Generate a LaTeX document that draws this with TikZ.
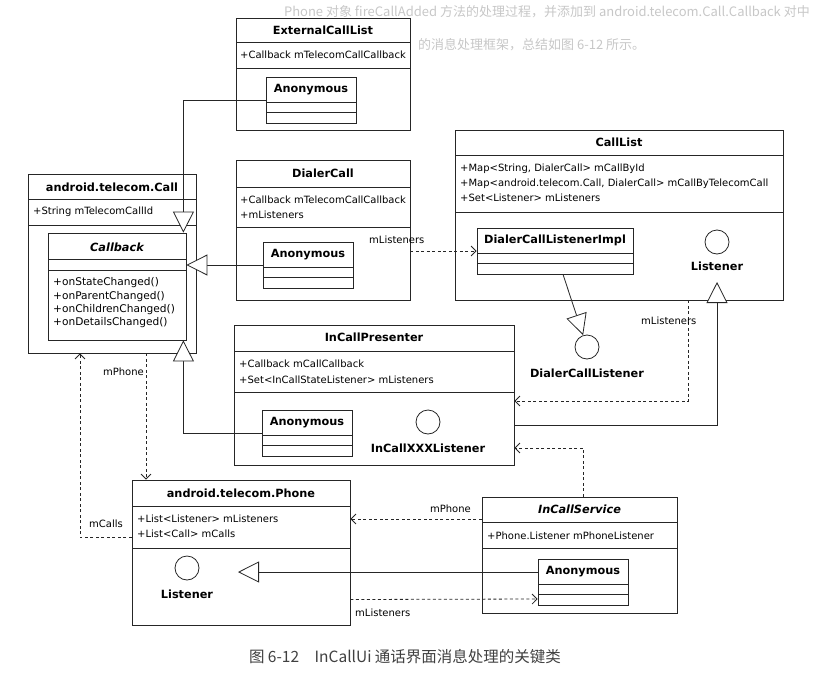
\documentclass[tikz,border=0pt]{standalone}
\usepackage{fontspec}
\setmainfont{DejaVu Sans}
\newfontfamily\cjkfont{Noto Sans CJK SC}
\usetikzlibrary{arrows.meta,positioning}
\tikzset{
  classbox/.style={draw=black!85, line width=0.8pt, fill=white, inner sep=0pt},
  titletext/.style={font=\fontsize{11.3}{13}\selectfont\bfseries, inner sep=0pt},
  membertext/.style={font=\fontsize{10}{15}\selectfont, align=left, inner sep=0pt, anchor=west},
  labeltext/.style={font=\fontsize{10}{12}\selectfont, inner sep=0pt},
  divider/.style={draw=black!85, line width=0.8pt},
  lollipop/.style={circle, draw=black!85, line width=0.8pt, fill=white, minimum size=24pt, inner sep=0pt},
  gen/.style={draw=black!85, line width=0.8pt, -{Triangle[length=21pt, width=21pt, fill=white]}},
  dep/.style={draw=black!85, line width=0.8pt, dash pattern=on 3pt off 2.5pt, -{Straight Barb[length=5pt, width=10pt]}},
  pagetext/.style={font=\cjkfont\fontsize{13}{15}\selectfont, text=black!22, inner sep=0pt}
}
\begin{document}
\begin{tikzpicture}[x=1pt, y=-1pt]
    \useasboundingbox (0,0) rectangle (816,680);
    % faint page text above the figure
    \node[pagetext, anchor=east] (pageline1) at (810,12) {Phone 对象 fireCallAdded 方法的处理过程，并添加到 android.telecom.Call.Callback 对中};
    \node[pagetext, anchor=west] (pageline2) at (418,45) {的消息处理框架，总结如图 6-12 所示。};

    % ExternalCallList
    \node[classbox, minimum width=174pt, minimum height=112pt] (extList) at (323,74) {};
    \node[titletext] (extListT) at (323,30) {ExternalCallList};
    \draw[divider] (236,42) -- (410,42) (236,68) -- (410,68);
    \node[membertext] (extListA) at (240,55) {+Callback mTelecomCallCallback};
    \node[classbox, minimum width=90pt, minimum height=46pt] (anonExt) at (311,100) {};
    \node[titletext] (anonExtT) at (311,89.5) {Anonymous};
    \draw[divider] (266,102) -- (356,102) (266,112) -- (356,112);

    % DialerCall
    \node[classbox, minimum width=174pt, minimum height=140pt] (dialer) at (323,230) {};
    \node[titletext] (dialerT) at (323,173) {DialerCall};
    \draw[divider] (236,187) -- (410,187) (236,227) -- (410,227);
    \node[membertext] (dialerA) at (240,207) {+Callback mTelecomCallCallback\\+mListeners};
    \node[classbox, minimum width=90pt, minimum height=46pt] (anonDial) at (308,265) {};
    \node[titletext] (anonDialT) at (308,254.5) {Anonymous};
    \draw[divider] (263,267) -- (353,267) (263,277) -- (353,277);

    % android.telecom.Call with inner Callback
    \node[classbox, minimum width=168pt, minimum height=179pt] (call) at (112,263.5) {};
    \node[titletext] (callT) at (112,187) {android.telecom.Call};
    \draw[divider] (28,199) -- (196,199) (28,225) -- (196,225);
    \node[membertext] (callA) at (33,212) {+String mTelecomCallId};
    \node[classbox, minimum width=138pt, minimum height=107pt] (cbk) at (117,286.5) {};
    \node[titletext, font=\fontsize{11.3}{13}\selectfont\bfseries\itshape] (cbkT) at (117,247) {Callback};
    \draw[divider] (48,259) -- (186,259) (48,270) -- (186,270);
    \node[membertext, font=\fontsize{10.6}{13.3}\selectfont] (cbkM) at (53,303) {+onStateChanged()\\+onParentChanged()\\+onChildrenChanged()\\+onDetailsChanged()};

    % CallList
    \node[classbox, minimum width=328pt, minimum height=170pt] (callList) at (619,215) {};
    \node[titletext] (callListT) at (619,142) {CallList};
    \draw[divider] (455,155) -- (783,155) (455,212) -- (783,212);
    \node[membertext] (callListA) at (460,183) {+Map<String, DialerCall> mCallById\\+Map<android.telecom.Call, DialerCall> mCallByTelecomCall\\+Set<Listener> mListeners};
    \node[classbox, minimum width=156pt, minimum height=46pt] (impl) at (555,251) {};
    \node[titletext] (implT) at (555,240) {DialerCallListenerImpl};
    \draw[divider] (477,253) -- (633,253) (477,263) -- (633,263);
    \node[lollipop] (clLsn) at (717,242) {};
    \node[titletext, below=7pt of clLsn] (clLsnT) {Listener};
    \coordinate (clLsnTip) at (717,282);

    % DialerCallListener
    \node[lollipop] (dclLsn) at (587,347) {};
    \node[titletext, below=9pt of dclLsn] (dclLsnT) {DialerCallListener};

    % InCallPresenter
    \node[classbox, minimum width=280pt, minimum height=140pt] (icp) at (374,395) {};
    \node[titletext] (icpT) at (374,337) {InCallPresenter};
    \draw[divider] (234,351) -- (514,351) (234,392) -- (514,392);
    \node[membertext, font=\fontsize{10}{16}\selectfont] (icpA) at (239,371.5) {+Callback mCallCallback\\+Set<InCallStateListener> mListeners};
    \node[classbox, minimum width=90pt, minimum height=46pt] (anonIcp) at (307,433) {};
    \node[titletext] (anonIcpT) at (307,422.5) {Anonymous};
    \draw[divider] (262,435) -- (352,435) (262,445) -- (352,445);
    \node[lollipop] (icpLsn) at (428,422) {};
    \node[titletext, below=9pt of icpLsn] (icpLsnT) {InCallXXXListener};

    % android.telecom.Phone
    \node[classbox, minimum width=218pt, minimum height=145pt] (phone) at (241,552.5) {};
    \node[titletext] (phoneT) at (241,493) {android.telecom.Phone};
    \draw[divider] (132,506) -- (350,506) (132,548) -- (350,548);
    \node[membertext] (phoneA) at (137,526.5) {+List<Listener> mListeners\\+List<Call> mCalls};
    \node[lollipop] (phLsn) at (187,568) {};
    \node[titletext, below=9pt of phLsn] (phLsnT) {Listener};
    \coordinate (phLsnTip) at (238,572);

    % InCallService
    \node[classbox, minimum width=195pt, minimum height=116pt] (svc) at (579.5,555) {};
    \node[titletext, font=\fontsize{11.3}{13}\selectfont\bfseries\itshape] (svcT) at (579.5,509) {InCallService};
    \draw[divider] (482,522) -- (677,522) (482,548) -- (677,548);
    \node[membertext] (svcA) at (487,536) {+Phone.Listener mPhoneListener};
    \node[classbox, minimum width=90pt, minimum height=46pt] (anonSvc) at (583,582) {};
    \node[titletext] (anonSvcT) at (583,571.5) {Anonymous};
    \draw[divider] (538,584) -- (628,584) (538,594) -- (628,594);

    % generalisations
    \draw[gen] (anonExt.west) -| ([xshift=-3pt]cbk.north east);
    \draw[gen] (anonDial.west) -- (anonDial.west -| cbk.east);
    \draw[gen] (anonIcp.west) -| ([xshift=-3pt]cbk.south east);
    \draw[gen] ([xshift=8pt]impl.south) -- (dclLsn);
    \draw[gen] ([yshift=-30pt]icp.east) -| (clLsnTip);
    \draw[gen] ([yshift=10pt]anonSvc.west) -- (phLsnTip);

    % dependencies
    \draw[dep] (impl.west -| dialer.east) -- (impl.west);
    \draw[dep] ([xshift=-95pt]callList.south east) |- ([yshift=-6pt]icp.east);
    \draw[dep] ([xshift=4pt]svc.north) |- ([yshift=-53pt]icp.east);
    \draw[dep] ([yshift=36pt]svc.west) -- ([yshift=36pt]svc.west -| phone.east);
    \draw[dep] ([yshift=-47pt]phone.east) -- ([yshift=-17pt]anonSvc.west);
    \draw[dep] ([yshift=15pt]phone.west) -| ([xshift=-32pt]call.south);
    \draw[dep] ([xshift=34pt]call.south) -- ([xshift=34pt]call.south |- phone.north);

    % connector labels
    \node[labeltext, anchor=west] (lblDialLsn) at (369,240) {mListeners};
    \node[labeltext, anchor=west] (lblClLsn) at (641,321) {mListeners};
    \node[labeltext, anchor=east] (lblCallPhone) at (144,372) {mPhone};
    \node[labeltext, anchor=east] (lblCalls) at (123,524) {mCalls};
    \node[labeltext, anchor=east] (lblSvcPhone) at (471,509) {mPhone};
    \node[labeltext, anchor=west] (lblPhLsn) at (355,613) {mListeners};

    % caption
    \node[font=\cjkfont\fontsize{15.5}{18}\selectfont, text=black!75] (caption) at (405,657) {图 6-12\quad InCallUi 通话界面消息处理的关键类};
\end{tikzpicture}
\end{document}
